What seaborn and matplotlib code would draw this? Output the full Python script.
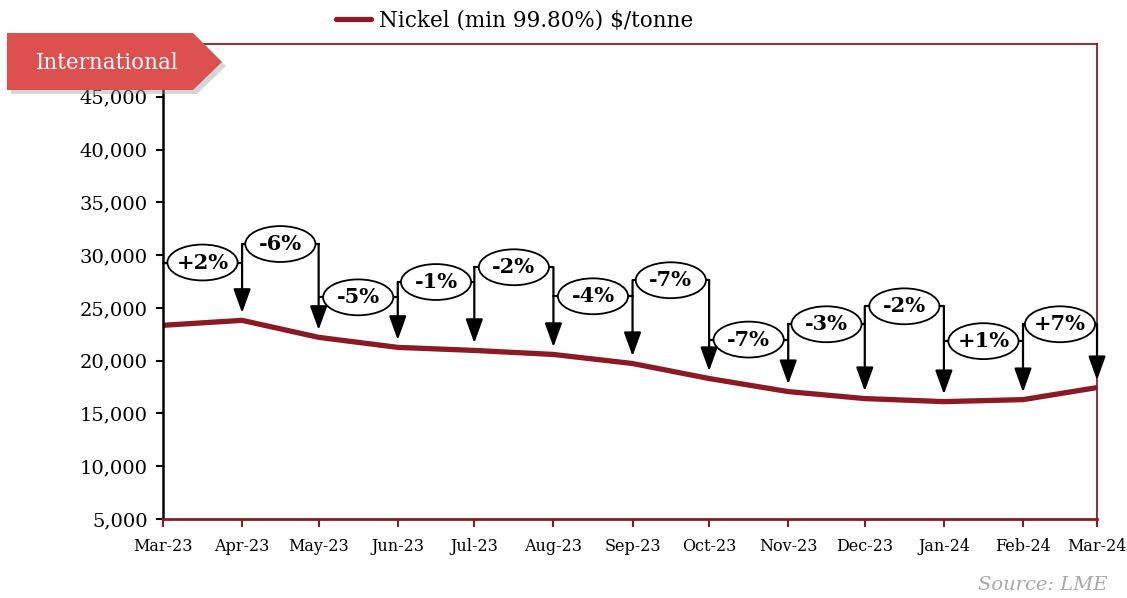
import matplotlib
matplotlib.use('Agg')
import matplotlib.pyplot as plt
import matplotlib.dates as mdates
from matplotlib.patches import Ellipse, Polygon, FancyArrowPatch
from matplotlib.ticker import FuncFormatter
import pandas as pd
import seaborn as sns

# data
months = ['2023-03-01', '2023-04-01', '2023-05-01', '2023-06-01', '2023-07-01', '2023-08-01',
          '2023-09-01', '2023-10-01', '2023-11-01', '2023-12-01', '2024-01-01', '2024-02-01',
          '2024-03-01']
prices = [23350, 23820, 22210, 21260, 20970, 20590, 19730, 18310, 17070, 16410, 16120, 16310, 17450]
changes = ['+2%', '-6%', '-5%', '-1%', '-2%', '-4%', '-7%', '-7%', '-3%', '-2%', '+1%', '+7%']
label_levels = [29300, 31050, 26000, 27450, 28850, 26100, 27620, 22000, 23450, 25150, 21850, 23450]

series_name = 'Nickel (min 99.80%) $/tonne'
line_red = '#8B1A24'

df = pd.DataFrame({'date': pd.to_datetime(months), 'price': prices})

sns.set_style('white')
plt.rcParams['font.family'] = ['DejaVu Serif']
plt.rcParams['text.color'] = 'black'

fig = plt.figure(figsize=(11.27, 5.98), dpi=100)
ax = fig.add_axes([0.1446, 0.1321, 0.8288, 0.7943])

sns.lineplot(data=df, x='date', y='price', color=line_red, linewidth=3.8, ax=ax,
             label=series_name, legend=False, zorder=2)

ax.set_ylim(5000, 50000)
ax.set_yticks(range(5000, 50000, 5000))
ax.yaxis.set_major_formatter(FuncFormatter(lambda v, p: '{:,.0f}'.format(v)))
ax.set_xlim(df.date.iloc[0], df.date.iloc[-1])
ax.set_xticks(df.date)
ax.xaxis.set_major_formatter(mdates.DateFormatter('%b-%y'))
ax.set_xlabel('')
ax.set_ylabel('')

ax.tick_params(axis='y', labelsize=14, direction='out', length=5, width=1.5, color='black',
               labelcolor='black', pad=6)
ax.tick_params(axis='x', labelsize=11.5, direction='out', length=6, width=1.5, color=line_red,
               labelcolor='black', pad=8)
ax.tick_params(left=True, bottom=True)
for s in ['top', 'right', 'bottom']:
    ax.spines[s].set_color(line_red)
    ax.spines[s].set_linewidth(1.3)
ax.spines['left'].set_color('black')
ax.spines['left'].set_linewidth(1.8)
ax.spines['bottom'].set_linewidth(2)

# change brackets with ellipse labels
xnum = mdates.date2num(df.date)
for i, txt in enumerate(changes):
    x0, x1 = xnum[i], xnum[i + 1]
    lvl = label_levels[i]
    ax.plot([x0, x1], [lvl, lvl], color='black', lw=1.6, zorder=3, clip_on=False)
    top = lvl if i == len(changes) - 1 else max(lvl, label_levels[i + 1])
    arr = FancyArrowPatch((x1, top), (x1, prices[i + 1] + 700),
                          arrowstyle='-|>,head_length=1.05,head_width=0.38',
                          mutation_scale=14, color='black', lw=1.6, zorder=3,
                          shrinkA=0, shrinkB=0, clip_on=False)
    ax.add_patch(arr)
    ax.add_patch(Ellipse(((x0 + x1) / 2, lvl), 27.5, 3400, facecolor='white',
                         edgecolor='black', lw=1.3, zorder=4, clip_on=False))
    ax.text((x0 + x1) / 2, lvl, txt, ha='center', va='center', fontsize=15,
            fontweight='bold', color='black', zorder=5)

# legend
fig.legend(loc='center', bbox_to_anchor=(0.457, 0.965), frameon=False, fontsize=15.5,
           handlelength=1.6, handletextpad=0.4, labelcolor='black')

# "International" tag
def fx(p):
    return (p[0] / 1127, 1 - p[1] / 598)

tag = [(7, 33), (193, 33), (222, 62), (193, 90), (7, 90)]
shadow = [(p[0] + 4, p[1] + 4) for p in tag]
fig.patches.append(Polygon([fx(p) for p in shadow], closed=True, transform=fig.transFigure,
                           facecolor='#999999', alpha=0.4, edgecolor='none', zorder=9))
fig.patches.append(Polygon([fx(p) for p in tag], closed=True, transform=fig.transFigure,
                           facecolor='#DC5050', edgecolor='none', zorder=10))
fig.text(107 / 1127, 1 - 63 / 598, 'International', color='white', fontsize=15.5,
         ha='center', va='center', zorder=11)

fig.text(1108 / 1127, 1 - 585 / 598, 'Source: LME', color='#A8A8A8', fontsize=14,
         style='italic', ha='right', va='center')

fig.savefig('out.png', dpi=100)
